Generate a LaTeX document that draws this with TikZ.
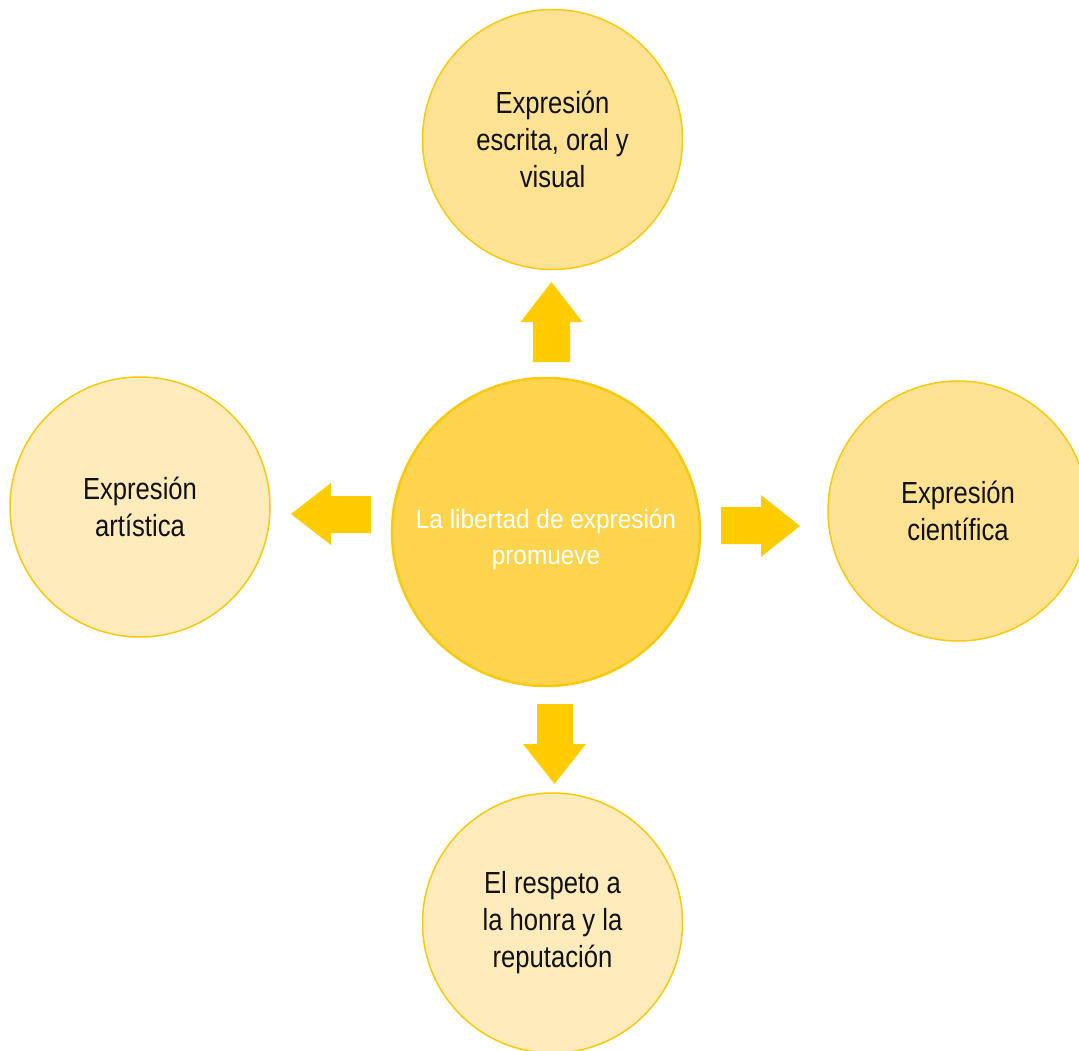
\documentclass[tikz,border=0pt]{standalone}
\usepackage{fontspec}
\setmainfont[FakeStretch=0.84]{Liberation Sans}
\newfontfamily\centerfont[FakeStretch=0.92]{Liberation Sans}
\definecolor{ringcol}{HTML}{F8C90C}
\definecolor{arrowcol}{HTML}{FFCC00}
\definecolor{centerfill}{HTML}{FDD44E}
\definecolor{darkfill}{HTML}{FEE293}
\definecolor{lightfill}{HTML}{FEEBBB}
\definecolor{txt}{HTML}{111111}
\tikzset{
  bubble/.style={circle, draw=ringcol, line width=1.5pt, minimum size=260pt, inner sep=0pt,
    align=center, text=txt, font=\fontsize{30.5}{37}\selectfont},
  hub/.style={circle, draw=ringcol, line width=2.5pt, fill=centerfill, minimum size=308pt,
    inner sep=0pt},
  hubtext/.style={align=center, text=white, inner sep=0pt, font=\centerfont\fontsize{26.5}{36}\selectfont},
  blockarrow/.style={fill=arrowcol, draw=none}
}
\begin{document}
\begin{tikzpicture}[x=1pt,y=-1pt]
\useasboundingbox (0,0) rectangle (1079,1051);
\clip (0,0) rectangle (1079,1051);
\fill[white] (0,0) rectangle (1079,1051);

\node[hub] (c) at (546,532) {};
\node[hubtext] (ct) at ([yshift=-7pt]c.center) {La libertad de expresión\\promueve};
\node[bubble, fill=darkfill] (t) at (552.5,139.5) {Expresión\\escrita, oral y\\visual};
\node[bubble, fill=lightfill] (l) at (140,507) {Expresión\\artística};
\node[bubble, fill=darkfill] (r) at (958,511) {Expresión\\científica};
\node[bubble, fill=lightfill] (b) at (552.5,923) {El respeto a\\la honra y la\\reputación};

% up arrow
\fill[blockarrow] (551.5,282) -- (582.5,322) -- (570,322) -- (570,362) -- (533,362) -- (533,322) -- (520.5,322) -- cycle;
% left arrow
\fill[blockarrow] (291,514) -- (331,483) -- (331,496) -- (371,496) -- (371,533) -- (331,533) -- (331,545) -- cycle;
% right arrow
\fill[blockarrow] (721,507) -- (761,507) -- (761,495) -- (800,526) -- (761,557) -- (761,544) -- (721,544) -- cycle;
% down arrow
\fill[blockarrow] (537,704) -- (573,704) -- (573,744) -- (586,744) -- (554.5,784) -- (523,744) -- (537,744) -- cycle;
\end{tikzpicture}
\end{document}
